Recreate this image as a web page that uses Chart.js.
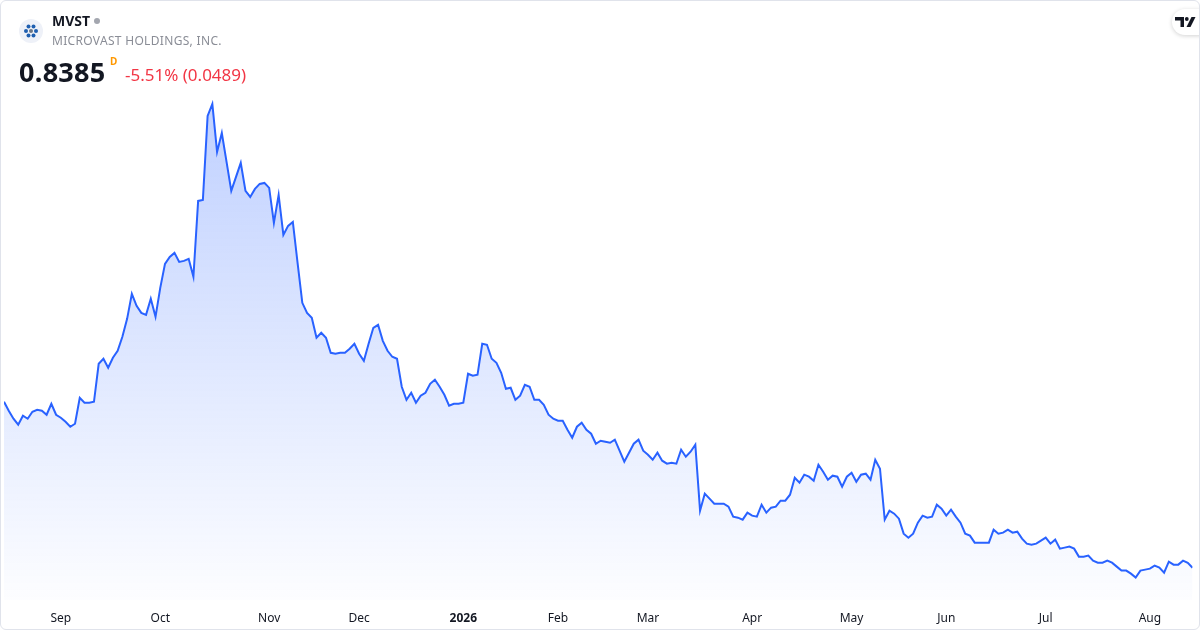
<!DOCTYPE html>
<html>
<head>
<meta charset="utf-8">
<script src="https://cdn.jsdelivr.net/npm/chart.js@4.4.1/dist/chart.umd.min.js"></script>
<style>
  html, body { margin:0; padding:0; background:#fff; }
  #frame { position:absolute; left:0; top:0; width:1198px; height:628px; border:1px solid #e0e3eb; border-radius:6px; overflow:hidden; background:#fff; }
  #chartWrap { position:absolute; left:0; top:0; width:1200px; height:630px; }
  .t { position:absolute; white-space:nowrap; font-family:"Noto Sans", "Open Sans", sans-serif; }
  #sym { left:51px; top:10px; font-size:14px; font-weight:700; color:#131722; }
  #dot { position:absolute; left:93px; top:17px; width:6px; height:6px; border-radius:50%; background:#a3a6af; }
  #name { left:51px; top:31px; font-size:12px; color:#8a8d96; letter-spacing:0.32px; }
  #price { left:18px; top:52px; font-size:27px; font-weight:700; color:#131722; letter-spacing:0.3px; }
  #d { left:109px; top:53px; font-size:10px; font-weight:700; color:#ff9800; }
  #chg { left:124px; top:62px; font-size:17px; color:#f23645; }
  #logo { position:absolute; left:18px; top:18px; width:24px; height:24px; border-radius:50%; background:#eef1f8; }
  #tv { position:absolute; left:1171px; top:8px; width:40px; height:26px; border-radius:13px; background:#fff; box-shadow:0 1px 4px rgba(0,0,0,0.18); }
</style>
</head>
<body>
<div id="frame">
  <div id="chartWrap"><canvas id="c" width="1200" height="630"></canvas></div>
  <div id="logo">
    <svg width="24" height="24" viewBox="0 0 24 24">
      <circle cx="9.5" cy="7.5" r="2" fill="#1f5fb0"/>
      <circle cx="14.5" cy="7.5" r="2" fill="#1f5fb0"/>
      <circle cx="7" cy="12" r="2" fill="#1f5fb0"/>
      <circle cx="12" cy="12" r="2" fill="#6b7686"/>
      <circle cx="17" cy="12" r="2" fill="#1f5fb0"/>
      <circle cx="9.5" cy="16.5" r="2" fill="#1f5fb0"/>
      <circle cx="14.5" cy="16.5" r="2" fill="#1f5fb0"/>
    </svg>
  </div>
  <div class="t" id="sym">MVST</div>
  <div id="dot"></div>
  <div class="t" id="name">MICROVAST HOLDINGS, INC.</div>
  <div class="t" id="price">0.8385</div>
  <div class="t" id="d">D</div>
  <div class="t" id="chg">-5.51% (0.0489)</div>
  <div id="tv">
    <svg width="40" height="26" viewBox="0 0 40 26" style="position:absolute;left:0;top:0">
      <path d="M3 8 H12 V18 H8.5 V11.5 H3 Z" fill="#131722"/>
      <circle cx="14.8" cy="10" r="1.9" fill="#131722"/>
      <path d="M19.5 8 H23.5 L18.5 18 H14.5 Z" fill="#131722"/>
    </svg>
  </div>
</div>
<script>
// Daily closes (one per trading day, mid-Aug 2025 to mid-Aug 2026)
const closes = [
  2.50,2.41,2.33,2.27,2.36,2.33,2.40,2.42,2.41,2.37,
  2.48,2.37,2.34,2.30,2.25,2.28,2.54,2.49,2.49,2.50,
  2.88,2.93,2.84,2.94,3.01,3.15,3.33,3.58,3.46,3.39,
  3.37,3.53,3.35,3.64,3.88,3.95,3.99,3.90,3.91,3.93,
  3.75,4.51,4.52,5.36,5.48,5.00,5.19,4.90,4.61,4.75,
  4.89,4.61,4.55,4.63,4.68,4.69,4.64,4.29,4.57,4.17,
  4.26,4.30,3.89,3.49,3.39,3.34,3.14,3.19,3.14,2.99,
  2.98,2.99,2.99,3.03,3.08,2.98,2.91,3.08,3.24,3.27,
  3.11,3.01,2.95,2.93,2.65,2.52,2.59,2.49,2.56,2.59,
  2.68,2.72,2.65,2.57,2.46,2.48,2.48,2.49,2.78,2.76,
  2.77,3.08,3.07,2.93,2.89,2.79,2.63,2.64,2.52,2.56,
  2.67,2.65,2.52,2.52,2.47,2.37,2.33,2.31,2.31,2.22,
  2.14,2.25,2.29,2.22,2.18,2.08,2.11,2.10,2.09,2.12,
  2.01,1.90,1.99,2.08,2.12,2.01,1.97,1.92,1.99,1.91,
  1.88,1.89,1.88,2.02,1.95,2.00,2.07,1.41,1.58,1.53,
  1.48,1.48,1.48,1.45,1.35,1.34,1.32,1.39,1.36,1.35,
  1.47,1.39,1.44,1.45,1.51,1.51,1.57,1.74,1.69,1.77,
  1.75,1.71,1.87,1.80,1.72,1.76,1.75,1.65,1.75,1.79,
  1.70,1.77,1.78,1.72,1.92,1.83,1.32,1.41,1.38,1.33,
  1.18,1.14,1.18,1.29,1.36,1.34,1.35,1.47,1.43,1.36,
  1.42,1.35,1.29,1.18,1.16,1.09,1.09,1.09,1.09,1.22,
  1.18,1.19,1.22,1.19,1.20,1.13,1.08,1.07,1.08,1.11,
  1.14,1.08,1.12,1.03,1.04,1.05,1.03,0.95,0.95,0.96,
  0.91,0.89,0.89,0.91,0.89,0.85,0.81,0.81,0.78,0.74,
  0.81,0.82,0.83,0.86,0.84,0.79,0.90,0.87,0.87,0.91,
  0.8874,0.8385
];
// Month-start positions (trading-day index) and their labels
const monthTickIdx = [12, 33, 56, 75, 97, 117, 136, 158, 179, 199, 220, 242];
const monthTickLabels = ["Sep","Oct","Nov","Dec","2026","Feb","Mar","Apr","May","Jun","Jul","Aug"];

const points = closes.map((v, i) => ({ x: i, y: v }));

const ctx = document.getElementById('c').getContext('2d');
new Chart(ctx, {
  type: 'line',
  data: {
    datasets: [{
      data: points,
      borderColor: '#2962ff',
      borderWidth: 2,
      pointRadius: 0,
      tension: 0,
      fill: 'start',
      backgroundColor: (c) => {
        const area = c.chart.chartArea;
        if (!area) return 'rgba(41,98,255,0.15)';
        const g = c.chart.ctx.createLinearGradient(0, area.top, 0, area.bottom);
        g.addColorStop(0, 'rgba(41,98,255,0.30)');
        g.addColorStop(1, 'rgba(41,98,255,0.01)');
        return g;
      }
    }]
  },
  options: {
    responsive: false,
    animation: false,
    devicePixelRatio: 1,
    layout: { padding: { left: 3, right: 8.5, top: 90, bottom: 2 } },
    plugins: { legend: { display: false }, tooltip: { enabled: false } },
    scales: {
      x: {
        type: 'linear',
        min: 0,
        max: closes.length - 1,
        grid: { display: false },
        border: { display: false },
        afterBuildTicks: (s) => { s.ticks = monthTickIdx.map(v => ({ value: v })); },
        ticks: {
          autoSkip: false,
          maxRotation: 0,
          padding: 3,
          color: '#131722',
          font: (c) => ({
            family: '"Noto Sans", "Open Sans", sans-serif',
            size: 12,
            weight: (c.tick && c.tick.value === 97) ? 'bold' : 'normal'
          }),
          callback: (v) => {
            const k = monthTickIdx.indexOf(v);
            return k >= 0 ? monthTickLabels[k] : '';
          }
        }
      },
      y: {
        display: false,
        min: 0.51,
        max: 5.61
      }
    }
  }
});
</script>
</body>
</html>
